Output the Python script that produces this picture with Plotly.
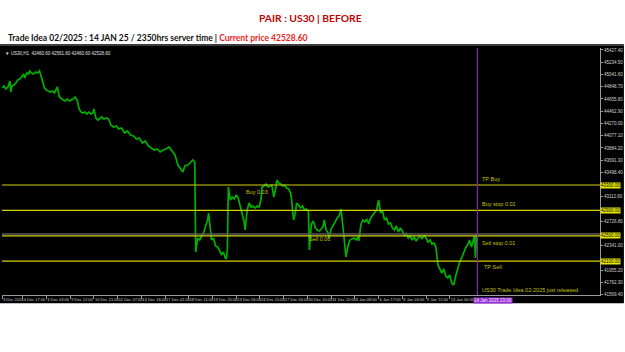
import plotly.graph_objects as go

# ---- data ----
bars = [0, 2, 4, 6, 8, 9, 10, 12, 14, 16, 18, 20, 22, 23, 25, 27, 28, 30, 32, 34, 36, 38, 39, 41, 43, 45, 47, 49, 51, 53, 55, 56, 58, 60, 62, 64, 66, 68, 70, 72, 74, 76, 78, 80, 82, 84, 86, 88, 90, 92, 93, 95, 97, 99, 101, 103, 106, 108, 110, 113, 116, 118, 121, 124, 127, 130, 133, 136, 139, 142, 145, 148, 151, 154, 157, 160, 163, 166, 169, 172, 175, 178, 180, 183, 185, 188, 190, 193, 195, 196, 198, 200, 202, 204, 206, 208, 209, 210, 212, 214, 216, 218, 220, 222, 224, 226, 227, 228, 229, 231, 233, 235, 237, 239, 241, 243, 245, 246, 248, 250, 252, 254, 256, 258, 260, 262, 263, 265, 267, 269, 271, 273, 275, 277, 278, 280, 282, 284, 286, 288, 290, 292, 293, 295, 297, 298, 300, 302, 304, 306, 308, 310, 311, 313, 315, 317, 319, 321, 323, 325, 326, 328, 330, 331, 333, 335, 337, 339, 341, 343, 345, 346, 348, 350, 352, 354, 356, 358, 360, 361, 363, 365, 367, 369, 371, 373, 375, 377, 379, 381, 383, 385, 387, 389, 391, 393, 395, 397, 399, 401, 403, 405, 407, 409, 411, 413, 415, 417, 419, 421, 423, 425, 427, 429, 431, 433, 435, 437, 439, 441, 443, 445, 447, 449, 451, 453, 455, 457, 459, 461, 463, 465, 467, 469, 471, 473, 475, 477, 478, 479, 480]
close = [44828.1, 44859.6, 44812.4, 44843.9, 44938.4, 44765.1, 44859.6, 44875.4, 44906.9, 44954.1, 44969.9, 45017.1, 45048.6, 44985.6, 45064.4, 45048.6, 45095.9, 45064.4, 45048.6, 45080.1, 45064.4, 45095.9, 45048.6, 44954.1, 44828.1, 44796.6, 44780.9, 44765.1, 44780.9, 44749.4, 44812.4, 44843.9, 44686.4, 44654.9, 44639.1, 44623.4, 44654.9, 44623.4, 44639.1, 44654.9, 44686.4, 44639.1, 44497.4, 44450.1, 44434.4, 44450.1, 44418.6, 44450.1, 44418.6, 44434.4, 44497.4, 44355.6, 44324.1, 44355.6, 44371.4, 44339.9, 44355.6, 44339.9, 44245.4, 44213.9, 44229.6, 44182.4, 44198.1, 44119.4, 44150.9, 44087.9, 44072.1, 44024.9, 44040.6, 43961.9, 43993.4, 43914.6, 43883.1, 43851.6, 43867.4, 43820.1, 43851.6, 43867.4, 43898.9, 43835.9, 43772.9, 43615.4, 43568.1, 43505.1, 43599.6, 43615.4, 43646.9, 43694.1, 43662.6, 42245.1, 42465.6, 42434.1, 42497.1, 42544.4, 42654.6, 42749.1, 42859.4, 42670.4, 42434.1, 42465.6, 42339.6, 42323.9, 42276.6, 42197.9, 42245.1, 42150.6, 42134.9, 42276.6, 43268.9, 43064.1, 43111.4, 43079.9, 43142.9, 43095.6, 42953.9, 42859.4, 42717.6, 42591.6, 42906.6, 43016.9, 42953.9, 42969.6, 42938.1, 42969.6, 42953.9, 43064.1, 43268.9, 43284.6, 43316.1, 43268.9, 43284.6, 43300.4, 43111.4, 43253.1, 43379.1, 43331.9, 43316.1, 43284.6, 43300.4, 43253.1, 43237.4, 43174.4, 43064.1, 42749.1, 42875.1, 43016.9, 42985.4, 42938.1, 42969.6, 42906.6, 42922.4, 42890.9, 42276.6, 42686.1, 42733.4, 42623.1, 42591.6, 42575.9, 42607.4, 42654.6, 42749.1, 42591.6, 42544.4, 42465.6, 42607.4, 42654.6, 42717.6, 42780.6, 42812.1, 42922.4, 42670.4, 42481.4, 42166.4, 42339.6, 42434.1, 42449.9, 42465.6, 42434.1, 42481.4, 42418.4, 42670.4, 42749.1, 42717.6, 42764.9, 42686.1, 42780.6, 42827.9, 42875.1, 42906.6, 43064.1, 42859.4, 42890.9, 42749.1, 42780.6, 42686.1, 42701.9, 42623.1, 42591.6, 42654.6, 42560.1, 42623.1, 42575.9, 42497.1, 42544.4, 42465.6, 42497.1, 42434.1, 42481.4, 42418.4, 42465.6, 42497.1, 42449.9, 42512.9, 42465.6, 42402.6, 42434.1, 42371.1, 42386.9, 42323.9, 42040.4, 41961.6, 41914.4, 41977.4, 41867.1, 41835.6, 41882.9, 41756.9, 41725.4, 41867.1, 41993.1, 42087.6, 42150.6, 42245.1, 42308.1, 42355.4, 42434.1, 42323.9, 42465.6, 42497.1, 42150.6, 42528.6]

current_price = 42528.60
tp_buy = 43300.00
buy_stop = 42900.00
sell_stop = 42500.00
tp_sell = 42100.00
release_bar = 481

xtick_bars = [0, 21, 45, 69, 93, 117, 141, 165, 189, 213, 237, 261, 285, 309, 333, 357, 381, 405, 429, 453]
xtick_labels = ["3 Dec 2024", "4 Dec 17:00", "6 Dec 03:00", "9 Dec 12:00", "10 Dec 21:00",
                "12 Dec 07:00", "13 Dec 16:00", "17 Dec 02:00", "18 Dec 11:00", "19 Dec 20:00",
                "23 Dec 06:00", "24 Dec 15:00", "27 Dec 00:00", "30 Dec 10:00", "31 Dec 20:00",
                "3 Jan 08:00", "6 Jan 17:00", "8 Jan 03:00", "9 Jan 12:00", "13 Jan 00:00"]
ytick_vals = [45427.40, 45234.50, 45041.60, 44848.70, 44655.80, 44462.90, 44270.00, 44077.10,
              43884.20, 43691.30, 43498.40, 43112.60, 42726.80, 42341.00, 41955.20, 41762.30, 41569.40]

x_range = [0, 605]
y_range = [41567.85, 45458.1]

LVL = "#d2d200"
TXT = "#c4c400"

fig = go.Figure()
fig.add_trace(go.Scatter(x=bars, y=close, mode="lines",
                         line=dict(color="#00b000", width=1.7), hoverinfo="skip"))

shapes = [
    dict(type="rect", xref="paper", yref="paper", x0=-0.01, x1=1.04, y0=-0.033, y1=1.012,
         fillcolor="black", line=dict(width=0), layer="below"),
    dict(type="line", xref="paper", yref="paper", x0=-0.01, x1=1.04, y0=1.012, y1=1.012,
         line=dict(color="#3c3c3c", width=2)),
    dict(type="line", xref="paper", yref="y", x0=0, x1=1, y0=current_price, y1=current_price,
         line=dict(color="#5a5a5a", width=1.5)),
]
for lv in [tp_buy, buy_stop, sell_stop, tp_sell]:
    shapes.append(dict(type="line", xref="paper", yref="y", x0=0, x1=1, y0=lv, y1=lv,
                       line=dict(color=LVL, width=1.2)))
shapes.append(dict(type="line", xref="x", yref="paper", x0=release_bar, x1=release_bar, y0=0, y1=1,
                   line=dict(color="#8a1fb0", width=1.2)))

ann = []
f_small = dict(family="Liberation Sans, Arial", size=5.5, color=TXT)
ann.append(dict(x=release_bar + 3, y=tp_buy, xref="x", yref="y", text="TP Buy", showarrow=False,
                xanchor="left", yanchor="bottom", yshift=1, font=f_small))
ann.append(dict(x=release_bar + 3, y=buy_stop, xref="x", yref="y", text="Buy stop 0.01", showarrow=False,
                xanchor="left", yanchor="bottom", yshift=1, font=f_small))
ann.append(dict(x=release_bar + 3, y=sell_stop, xref="x", yref="y", text="Sell stop 0.01", showarrow=False,
                xanchor="left", yanchor="top", yshift=-2, font=f_small))
ann.append(dict(x=release_bar + 5, y=tp_sell, xref="x", yref="y", text="TP Sell", showarrow=False,
                xanchor="left", yanchor="top", yshift=-1, font=f_small))
ann.append(dict(x=release_bar + 3, y=41646, xref="x", yref="y",
                text="US30 Trade Idea 02-2025 just released", showarrow=False,
                xanchor="left", yanchor="middle", font=f_small))
ann.append(dict(x=258, y=43190, xref="x", yref="y", text="Buy 0.03", showarrow=False,
                xanchor="center", yanchor="middle", font=f_small))
ann.append(dict(x=321, y=42450, xref="x", yref="y", text="Sell 0.06", showarrow=False,
                xanchor="center", yanchor="middle", font=f_small))
for lv in [tp_buy, buy_stop, sell_stop, tp_sell]:
    ann.append(dict(x=1, y=lv, xref="paper", yref="y", text=f"{lv:.2f}", showarrow=False,
                    xanchor="left", yanchor="middle", bgcolor="#e6e600",
                    font=dict(family="Liberation Sans, Arial", size=4.5, color="black"),
                    borderpad=0))
ann.append(dict(x=0, y=1, xref="paper", yref="paper", xanchor="left", yanchor="top", xshift=1, yshift=-1,
                text="▼ US30,H1  42460.60 42561.60 42460.60 42528.60", showarrow=False,
                font=dict(family="Liberation Sans, Arial", size=4.5, color="#e0e0e0")))
ann.append(dict(x=477, y=0, xref="x", yref="paper", xanchor="left", yanchor="top", yshift=-2,
                text="14 Jan 2025 23:00", showarrow=False, bgcolor="#9b30e0",
                font=dict(family="Liberation Sans, Arial", size=4.5, color="#e8e8e8"), borderpad=0))
# titles (paper coords: plot spans px x 2..607, y 48..295)
ann.append(dict(x=(314 - 2) / 605, y=(295 - 18) / 247, xref="paper", yref="paper", xanchor="center",
                yanchor="middle", showarrow=False,
                text="<b>PAIR : US30 | BEFORE</b>",
                font=dict(family="Lato, Open Sans", size=10.3, color="#c00000")))
ann.append(dict(x=(6 - 2) / 605, y=(295 - 38) / 247, xref="paper", yref="paper", xanchor="left",
                yanchor="middle", showarrow=False,
                text="<b>Trade Idea 02/2025 : 14 JAN 25 / 2350hrs server time | "
                     "<span style='color:#ee1c1c'>Current price 42528.60</span></b>",
                font=dict(family="Lato, Open Sans", size=8.5, color="#111111")))

fig.update_layout(
    width=625, height=352,
    margin=dict(l=2, r=18, t=48, b=57),
    paper_bgcolor="white", plot_bgcolor="black",
    showlegend=False,
    shapes=shapes, annotations=ann,
    xaxis=dict(range=x_range, tickmode="array", tickvals=xtick_bars, ticktext=xtick_labels,
               showgrid=False, zeroline=False, showline=True, linecolor="#9a9a9a", linewidth=1,
               ticks="outside", ticklen=3, tickcolor="#9a9a9a", tickangle=0,
               ticklabelposition="outside right",
               tickfont=dict(family="Liberation Sans, Arial", size=4, color="#d0d0d0")),
    yaxis=dict(range=y_range, side="right", tickmode="array", tickvals=ytick_vals,
               ticktext=[f"{v:.2f}" for v in ytick_vals],
               showgrid=False, zeroline=False, showline=True, linecolor="#9a9a9a", linewidth=1,
               ticks="outside", ticklen=2, tickcolor="#9a9a9a",
               tickfont=dict(family="Liberation Sans, Arial", size=4.5, color="#d0d0d0")),
)

fig.write_html("out.html")
